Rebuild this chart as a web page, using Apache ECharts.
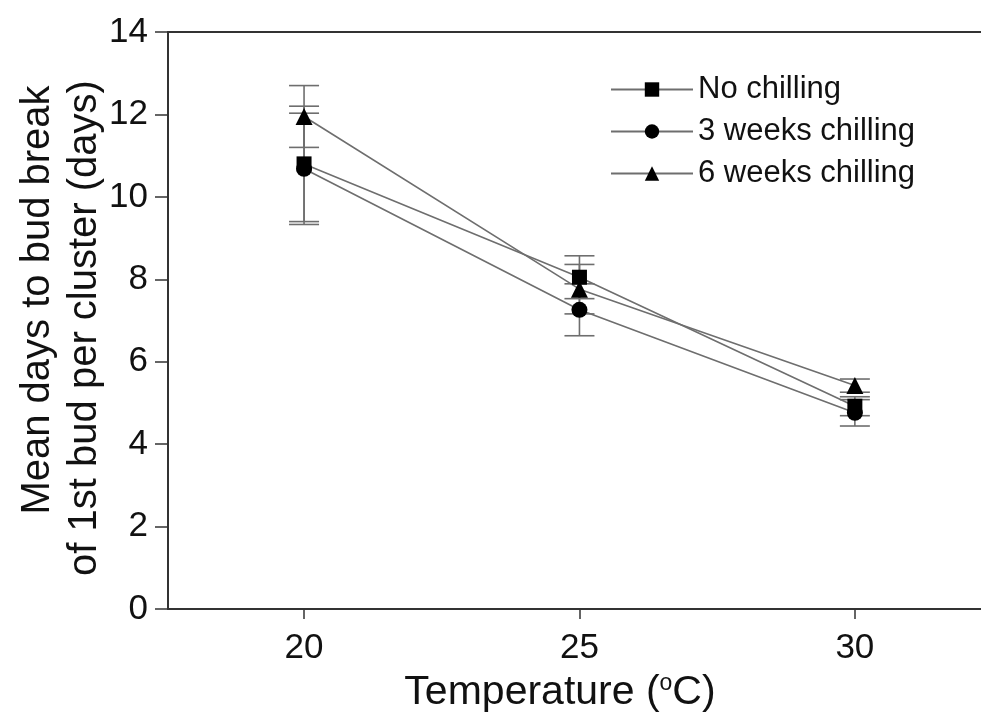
<!DOCTYPE html>
<html>
<head>
<meta charset="utf-8">
<script src="https://cdn.jsdelivr.net/npm/echarts@6/dist/echarts.min.js"></script>
<style>
  html, body { margin: 0; padding: 0; background: #fff; }
  #chart { width: 981px; height: 716px; }
</style>
</head>
<body>
<div id="chart"></div>
<script>
// Temperatures (°C) and mean days to bud break, with ± error
const temperatures = [20, 25, 30];
const xTickValues = [20, 25, 30];

const noChilling = [10.8, 8.05, 4.92];
const noChillingErr = [1.4, 0.52, 0.23];

const threeWeeks = [10.68, 7.26, 4.76];
const threeWeeksErr = [1.35, 0.63, 0.32];

const sixWeeks = [11.95, 7.76, 5.42];
const sixWeeksErr = [0.75, 0.6, 0.16];

const seriesNames = ['No chilling', '3 weeks chilling', '6 weeks chilling'];
const yTitleLines = ['Mean days to bud break', 'of 1st bud per cluster (days)'];

const FONT = '"Liberation Sans", Arial, sans-serif';
const TEXT_COLOR = '#111';
const LINE_COLOR = '#6e6e6e';
const AXIS_COLOR = '#333';

function pairs(values) {
  return temperatures.map((t, i) => [t, values[i]]);
}
function errRows(values, errs) {
  return temperatures.map((t, i) => [t, values[i] - errs[i], values[i] + errs[i]]);
}

function renderErrorBar(params, api) {
  const x = api.value(0);
  const lo = api.coord([x, api.value(1)]);
  const hi = api.coord([x, api.value(2)]);
  const half = 15;
  const style = { stroke: LINE_COLOR, lineWidth: 1.6 };
  return {
    type: 'group',
    children: [
      { type: 'line', shape: { x1: lo[0], y1: lo[1], x2: hi[0], y2: hi[1] }, style },
      { type: 'line', shape: { x1: hi[0] - half, y1: hi[1], x2: hi[0] + half, y2: hi[1] }, style },
      { type: 'line', shape: { x1: lo[0] - half, y1: lo[1], x2: lo[0] + half, y2: lo[1] }, style }
    ]
  };
}

function lineSeries(name, values, symbol, size) {
  return {
    name,
    type: 'line',
    data: pairs(values),
    symbol,
    symbolSize: size,
    itemStyle: { color: '#000' },
    lineStyle: { color: LINE_COLOR, width: 1.6 },
    z: 3,
    animation: false
  };
}

function errSeries(values, errs) {
  return {
    type: 'custom',
    data: errRows(values, errs),
    renderItem: renderErrorBar,
    encode: { x: 0, y: [1, 2] },
    z: 2,
    silent: true,
    animation: false
  };
}

const chart = echarts.init(document.getElementById('chart'));
chart.setOption({
  backgroundColor: '#fff',
  animation: false,
  grid: { left: 168, top: 32, right: 0, bottom: 107, outerBoundsMode: 'none', containLabel: false },
  legend: {
    data: seriesNames,
    orient: 'vertical',
    left: 605,
    top: 69,
    itemWidth: 82,
    itemHeight: 18,
    itemGap: 11,
    textStyle: { fontFamily: FONT, fontSize: 31, color: TEXT_COLOR, padding: [0, 0, 0, 0] }
  },
  graphic: [
    {
      type: 'text',
      x: 38, y: 300,
      rotation: Math.PI / 2,
      style: { text: yTitleLines[0], font: '40px ' + FONT, fill: TEXT_COLOR, align: 'center', verticalAlign: 'middle' }
    },
    {
      type: 'text',
      x: 85, y: 328,
      rotation: Math.PI / 2,
      style: { text: yTitleLines[1], font: '40px ' + FONT, fill: TEXT_COLOR, align: 'center', verticalAlign: 'middle' }
    },
    {
      type: 'text',
      x: 560, y: 693,
      style: {
        text: 'Temperature ({sup|o}C)',
        fontFamily: FONT, fontSize: 41, fill: TEXT_COLOR,
        align: 'center', verticalAlign: 'middle',
        rich: { sup: { fontFamily: FONT, fontSize: 23, fill: TEXT_COLOR, verticalAlign: 'top', padding: [0, 0, 15, 0] } }
      }
    }
  ],
  xAxis: [{
    type: 'value',
    min: 17.53,
    max: 32.29,
    splitLine: { show: false },
    axisLine: { lineStyle: { color: AXIS_COLOR, width: 2 } },
    axisTick: { length: 10, lineStyle: { color: AXIS_COLOR, width: 1.5 }, customValues: xTickValues },
    axisLabel: { customValues: xTickValues, margin: 22, fontFamily: FONT, fontSize: 35, color: TEXT_COLOR }
  }, {
    type: 'value',
    position: 'top',
    min: 17.53,
    max: 32.29,
    splitLine: { show: false },
    axisLine: { lineStyle: { color: AXIS_COLOR, width: 2 } },
    axisTick: { show: false },
    axisLabel: { show: false }
  }],
  yAxis: {
    type: 'value',
    min: 0,
    max: 14,
    interval: 2,
    splitLine: { show: false },
    axisLine: { show: true, lineStyle: { color: AXIS_COLOR, width: 2 } },
    axisTick: { show: true, length: 13, lineStyle: { color: AXIS_COLOR, width: 1.5 } },
    axisLabel: { margin: 20, fontFamily: FONT, fontSize: 35, color: TEXT_COLOR }
  },
  series: [
    errSeries(noChilling, noChillingErr),
    errSeries(threeWeeks, threeWeeksErr),
    errSeries(sixWeeks, sixWeeksErr),
    lineSeries(seriesNames[0], noChilling, 'rect', 15),
    lineSeries(seriesNames[1], threeWeeks, 'circle', 16),
    lineSeries(seriesNames[2], sixWeeks, 'triangle', 17)
  ]
});
</script>
</body>
</html>
